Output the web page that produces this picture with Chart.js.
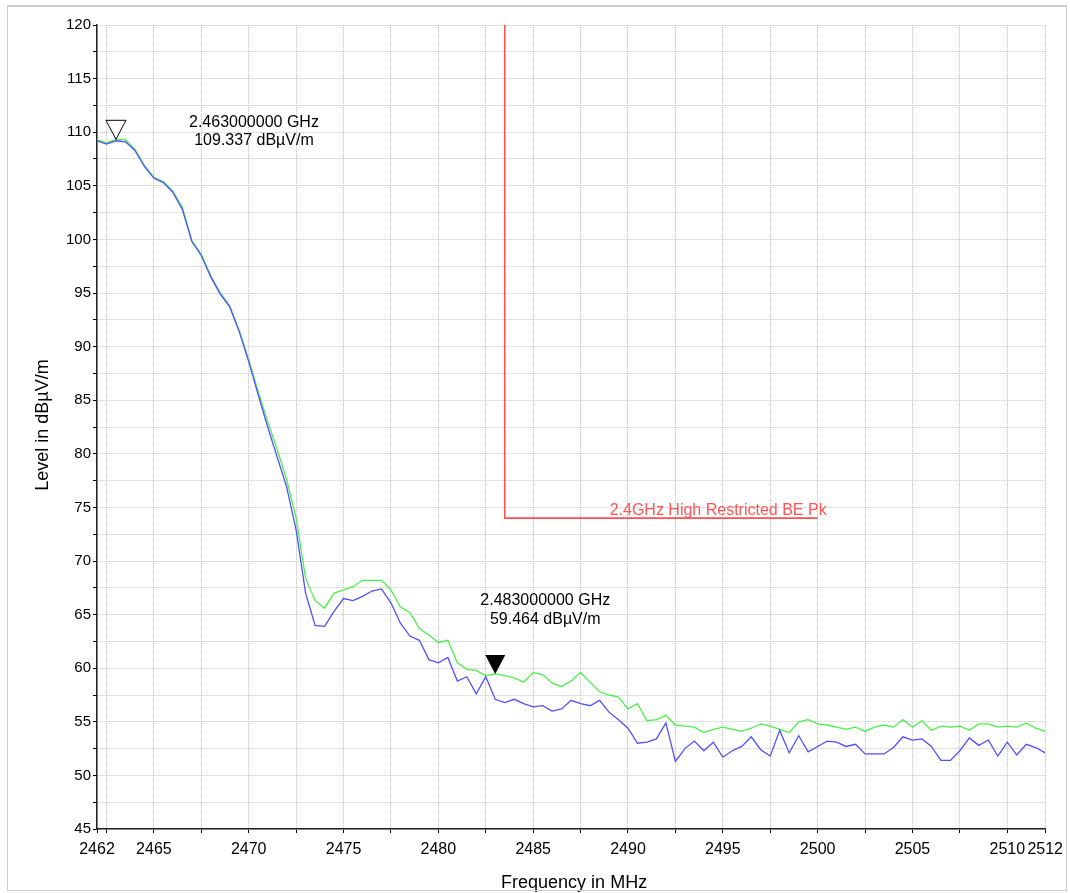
<!DOCTYPE html>
<html>
<head>
<meta charset="utf-8">
<style>
html, body { margin: 0; padding: 0; background: #fff; }
#wrap { position: relative; width: 1070px; height: 893px; overflow: hidden; }
#frame { position: absolute; left: 7px; top: 5px; width: 1058px; height: 883px; border: 1px solid #cccccc; border-top-width: 2px; pointer-events: none; }
</style>
<script src="https://cdn.jsdelivr.net/npm/chart.js@4.4.1/dist/chart.umd.min.js"></script>
</head>
<body>
<div id="wrap">
  <canvas id="myChart" width="1070" height="893"></canvas>
  <div id="frame"></div>
</div>
<script>
// sweep frequencies (MHz)
var freqs = [
    2462, 2462.5, 2463, 2463.5, 2464, 2464.5, 2465, 2465.5, 2466, 2466.5,
    2467, 2467.5, 2468, 2468.5, 2469, 2469.5, 2470, 2470.5, 2471, 2471.5,
    2472, 2472.5, 2473, 2473.5, 2474, 2474.5, 2475, 2475.5, 2476, 2476.5,
    2477, 2477.5, 2478, 2478.5, 2479, 2479.5, 2480, 2480.5, 2481, 2481.5,
    2482, 2482.5, 2483, 2483.5, 2484, 2484.5, 2485, 2485.5, 2486, 2486.5,
    2487, 2487.5, 2488, 2488.5, 2489, 2489.5, 2490, 2490.5, 2491, 2491.5,
    2492, 2492.5, 2493, 2493.5, 2494, 2494.5, 2495, 2495.5, 2496, 2496.5,
    2497, 2497.5, 2498, 2498.5, 2499, 2499.5, 2500, 2500.5, 2501, 2501.5,
    2502, 2502.5, 2503, 2503.5, 2504, 2504.5, 2505, 2505.5, 2506, 2506.5,
    2507, 2507.5, 2508, 2508.5, 2509, 2509.5, 2510, 2510.5, 2511, 2511.5,
    2512
];

// peak trace (green), dBuV/m
var peakLevel = [
    109.3, 109.0, 109.337, 109.3, 108.4, 106.9, 105.8, 105.4, 104.5, 103.0,
    99.9, 98.6, 96.6, 95.0, 93.8, 91.5, 88.8, 85.8, 83.0, 80.4,
    77.6, 74.0, 68.4, 66.3, 65.6, 67.0, 67.3, 67.6, 68.2, 68.2,
    68.2, 67.3, 65.7, 65.2, 63.7, 63.1, 62.4, 62.6, 60.5, 59.9,
    59.8, 59.3, 59.464, 59.3, 59.1, 58.7, 59.6, 59.4, 58.6, 58.3,
    58.8, 59.6, 58.7, 57.8, 57.5, 57.3, 56.2, 56.7, 55.1, 55.2,
    55.6, 54.7, 54.6, 54.5, 54.0, 54.3, 54.5, 54.3, 54.1, 54.4,
    54.8, 54.6, 54.3, 54.0, 55.0, 55.2, 54.8, 54.7, 54.5, 54.3,
    54.5, 54.1, 54.5, 54.7, 54.5, 55.2, 54.5, 55.1, 54.2, 54.6,
    54.5, 54.6, 54.2, 54.8, 54.8, 54.5, 54.6, 54.5, 54.9, 54.4,
    54.1
];

// second trace (blue), dBuV/m
var avgLevel = [
    109.2, 108.9, 109.2, 109.1, 108.3, 106.8, 105.7, 105.3, 104.4, 102.8,
    99.8, 98.5, 96.5, 94.9, 93.7, 91.4, 88.6, 85.5, 82.5, 79.7,
    76.9, 72.9, 67.0, 64.0, 63.9, 65.3, 66.5, 66.3, 66.7, 67.2,
    67.4, 66.1, 64.2, 63.0, 62.6, 60.8, 60.5, 61.0, 58.8, 59.2,
    57.6, 59.2, 57.1, 56.8, 57.1, 56.7, 56.4, 56.5, 56.0, 56.2,
    57.0, 56.7, 56.5, 57.0, 55.9, 55.2, 54.4, 53.0, 53.1, 53.4,
    54.9, 51.3, 52.5, 53.2, 52.3, 53.1, 51.7, 52.3, 52.7, 53.6,
    52.4, 51.8, 54.2, 52.1, 53.7, 52.2, 52.7, 53.2, 53.1, 52.7,
    52.9, 52.0, 52.0, 52.0, 52.6, 53.6, 53.3, 53.4, 52.7, 51.4,
    51.4, 52.3, 53.5, 52.8, 53.3, 51.8, 53.1, 51.9, 52.9, 52.6,
    52.1
];

// limit line
var limitName = '2.4GHz High Restricted BE Pk';
var limitFreq = [2483.5, 2483.5, 2500];
var limitLevel = [120, 74, 74];

// markers
var markerFreq = [2463, 2483];
var markerLevel = [109.337, 59.464];
var markerFilled = [false, true];

// axis ticks
var xTicks = [2462, 2462.5, 2465, 2467.5, 2470, 2472.5, 2475, 2477.5, 2480, 2482.5,
    2485, 2487.5, 2490, 2492.5, 2495, 2497.5, 2500, 2502.5, 2505, 2507.5, 2510, 2512];
var xTickLabels = [2462, 2465, 2470, 2475, 2480, 2485, 2490, 2495, 2500, 2505, 2510, 2512];
var yTicks = [45, 47.5, 50, 52.5, 55, 57.5, 60, 62.5, 65, 67.5, 70, 72.5, 75, 77.5, 80, 82.5,
    85, 87.5, 90, 92.5, 95, 97.5, 100, 102.5, 105, 107.5, 110, 112.5, 115, 117.5, 120];
var yTickLabels = [45, 50, 55, 60, 65, 70, 75, 80, 85, 90, 95, 100, 105, 110, 115, 120];

function toPoints(xs, ys) {
    return xs.map(function (v, i) { return { x: v, y: ys[i] }; });
}

var FONT = '"Liberation Sans", Arial, sans-serif';
Chart.defaults.font.family = FONT;
Chart.defaults.color = '#000';

// label offsets (px) from marker tip: dx, dy line 1, dy line 2
var markerLabelOffset = [[138, -17, 1.5], [50, -73, -54]];

var overlay = {
    id: 'overlay',
    afterDatasetsDraw: function (chart) {
        var ctx = chart.ctx;
        var xs = chart.scales.x, ys = chart.scales.y;
        var area = chart.chartArea;
        ctx.save();

        // limit label
        ctx.fillStyle = '#ff5555';
        ctx.font = '16px ' + FONT;
        ctx.textAlign = 'right';
        ctx.textBaseline = 'alphabetic';
        ctx.fillText(limitName, xs.getPixelForValue(limitFreq[2]) + 9, ys.getPixelForValue(limitLevel[2]) - 3);

        // markers
        markerFreq.forEach(function (f, i) {
            var px = xs.getPixelForValue(f);
            var py = ys.getPixelForValue(markerLevel[i]);
            ctx.beginPath();
            ctx.moveTo(px, py);
            ctx.lineTo(px - 10, py - 19);
            ctx.lineTo(px + 10, py - 19);
            ctx.closePath();
            if (markerFilled[i]) {
                ctx.fillStyle = '#000';
                ctx.fill();
            } else {
                ctx.strokeStyle = '#000';
                ctx.lineWidth = 1;
                ctx.stroke();
            }
            var off = markerLabelOffset[i];
            ctx.fillStyle = '#000';
            ctx.font = '16px ' + FONT;
            ctx.textAlign = 'center';
            ctx.textBaseline = 'middle';
            ctx.fillText((f / 1000).toFixed(9) + ' GHz', px + off[0], py + off[1]);
            ctx.fillText(markerLevel[i].toFixed(3) + ' dB\u00b5V/m', px + off[0], py + off[2]);
        });

        // axis titles
        ctx.fillStyle = '#000';
        ctx.font = '18px ' + FONT;
        ctx.textAlign = 'center';
        ctx.textBaseline = 'alphabetic';
        ctx.fillText('Frequency in MHz', (area.left + area.right) / 2 + 3, 888);
        ctx.translate(48, (area.top + area.bottom) / 2 - 2);
        ctx.rotate(-Math.PI / 2);
        ctx.fillText('Level in dB\u00b5V/m', 0, 0);
        ctx.restore();
    }
};

var ctx = document.getElementById('myChart').getContext('2d');
var spectrumChart = new Chart(ctx, {
    type: 'line',
    data: {
        datasets: [
            {
                label: 'Avg',
                data: toPoints(freqs, avgLevel),
                borderColor: '#5050ff',
                borderWidth: 1.3,
                pointRadius: 0,
                fill: false,
                order: 1
            },
            {
                label: 'Peak',
                data: toPoints(freqs, peakLevel),
                borderColor: '#4cf04c',
                borderWidth: 1.3,
                pointRadius: 0,
                fill: false,
                order: 2
            },
            {
                label: 'Limit',
                data: toPoints(limitFreq, limitLevel),
                borderColor: '#ff5050',
                borderWidth: 1.6,
                pointRadius: 0,
                fill: false,
                order: 0
            }
        ]
    },
    options: {
        responsive: false,
        animation: false,
        layout: { padding: { left: 0, top: 25, right: 24, bottom: 0 } },
        scales: {
            x: {
                type: 'linear',
                min: 2462,
                max: 2512,
                afterBuildTicks: function (scale) {
                    scale.ticks = xTicks.map(function (v) { return { value: v }; });
                },
                afterFit: function (scale) { scale.height = 64; },
                ticks: {
                    autoSkip: false,
                    maxRotation: 0,
                    padding: 7,
                    font: { size: 16 },
                    callback: function (v) { return xTickLabels.indexOf(v) >= 0 ? String(v) : ''; }
                },
                grid: {
                    color: '#c4c4c4',
                    tickColor: '#000',
                    tickLength: 4,
                    lineWidth: 1
                },
                border: { color: '#222', width: 1.5, dash: [1, 1] }
            },
            y: {
                type: 'linear',
                min: 45,
                max: 120,
                afterBuildTicks: function (scale) {
                    scale.ticks = yTicks.map(function (v) { return { value: v }; });
                },
                afterFit: function (scale) { scale.width = 97; },
                ticks: {
                    autoSkip: false,
                    padding: 2,
                    font: { size: 15 },
                    callback: function (v) { return yTickLabels.indexOf(v) >= 0 ? String(v) : ''; }
                },
                grid: {
                    color: '#c4c4c4',
                    tickColor: '#000',
                    tickLength: 4,
                    lineWidth: 1
                },
                border: { color: '#222', width: 1.5, dash: [1, 1] }
            }
        },
        plugins: {
            legend: { display: false },
            tooltip: { enabled: false }
        }
    },
    plugins: [overlay]
});
</script>
</body>
</html>
